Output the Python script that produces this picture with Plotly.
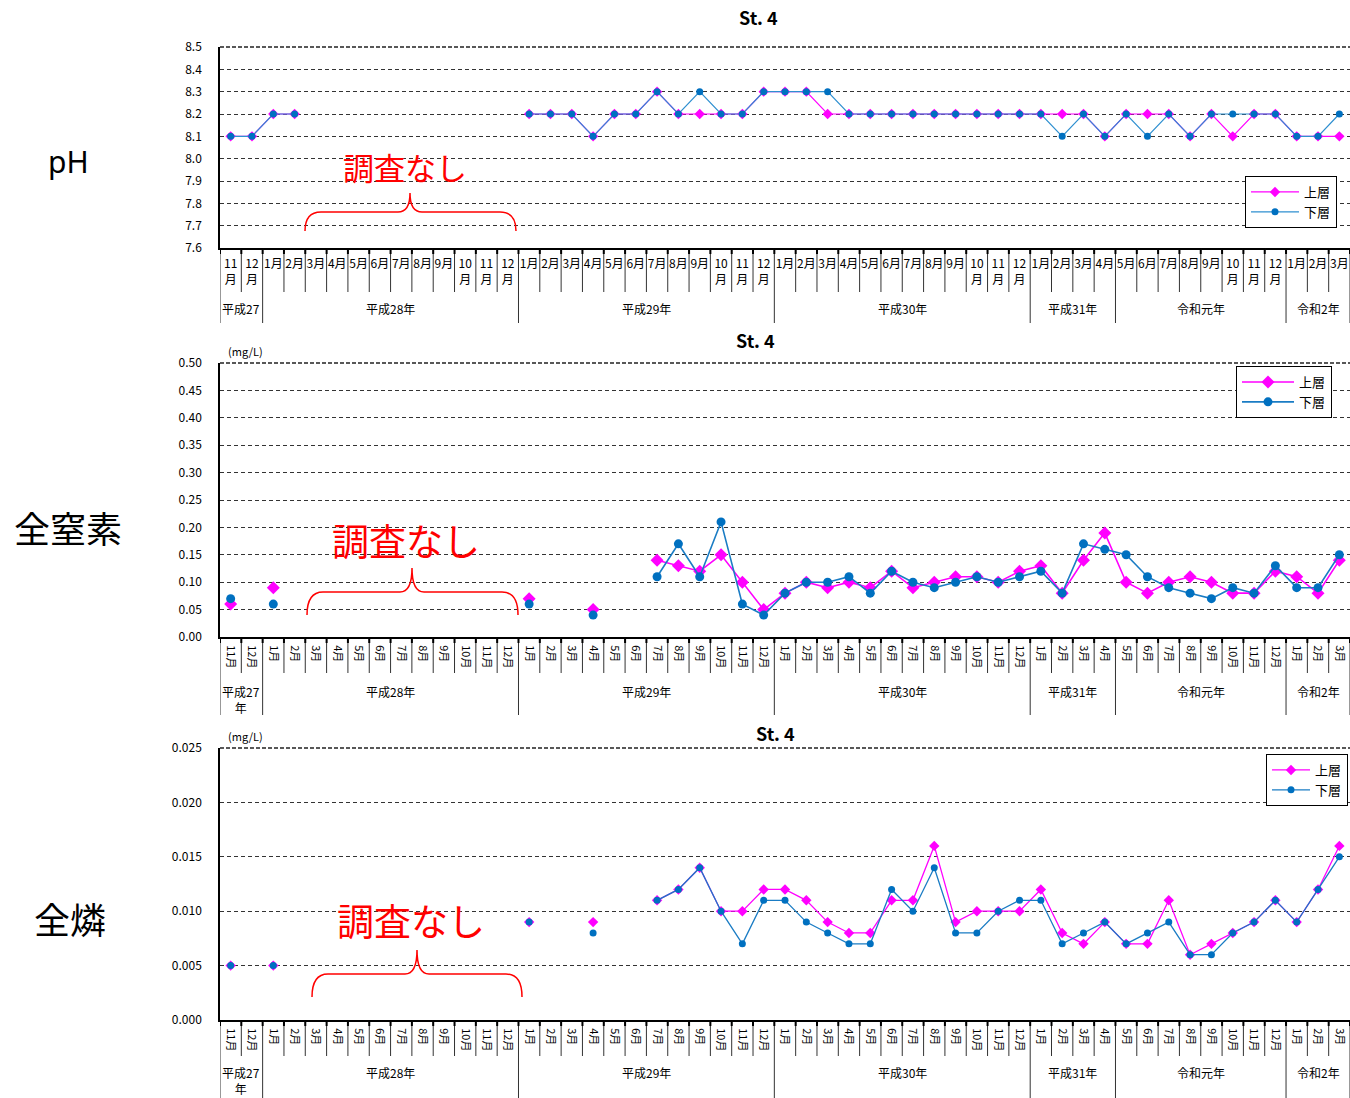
import plotly.graph_objects as go

W, H = 1350, 1098
FONT = "Noto Sans CJK JP"

# ---- data: monthly survey, Nov 2015 - Mar 2020 (St. 4) ----
month_labels = [
    "11月", "12月",
    "1月", "2月", "3月", "4月", "5月", "6月", "7月", "8月", "9月", "10月", "11月", "12月",
    "1月", "2月", "3月", "4月", "5月", "6月", "7月", "8月", "9月", "10月", "11月", "12月",
    "1月", "2月", "3月", "4月", "5月", "6月", "7月", "8月", "9月", "10月", "11月", "12月",
    "1月", "2月", "3月", "4月", "5月", "6月", "7月", "8月", "9月", "10月", "11月", "12月",
    "1月", "2月", "3月",
]
year_labels = ["平成27", "平成28年", "平成29年", "平成30年", "平成31年", "令和元年", "令和2年"]
year_first = [0, 2, 14, 26, 38, 42, 50]
year_last = [1, 13, 25, 37, 41, 49, 52]

ph_upper = [
    8.1, 8.1, 8.2, 8.2, None, None, None, None, None, None, None, None, None, None,
    8.2, 8.2, 8.2, 8.1, 8.2, 8.2, 8.3, 8.2, 8.2, 8.2, 8.2, 8.3,
    8.3, 8.3, 8.2, 8.2, 8.2, 8.2, 8.2, 8.2, 8.2, 8.2, 8.2, 8.2,
    8.2, 8.2, 8.2, 8.1, 8.2, 8.2, 8.2, 8.1, 8.2, 8.1, 8.2, 8.2,
    8.1, 8.1, 8.1,
]
ph_lower = [
    8.1, 8.1, 8.2, 8.2, None, None, None, None, None, None, None, None, None, None,
    8.2, 8.2, 8.2, 8.1, 8.2, 8.2, 8.3, 8.2, 8.3, 8.2, 8.2, 8.3,
    8.3, 8.3, 8.3, 8.2, 8.2, 8.2, 8.2, 8.2, 8.2, 8.2, 8.2, 8.2,
    8.2, 8.1, 8.2, 8.1, 8.2, 8.1, 8.2, 8.1, 8.2, 8.2, 8.2, 8.2,
    8.1, 8.1, 8.2,
]
tn_upper = [
    0.06, None, 0.09, None, None, None, None, None, None, None, None, None, None, None,
    0.07, None, None, 0.05, None, None, 0.14, 0.13, 0.12, 0.15, 0.10, 0.05,
    0.08, 0.10, 0.09, 0.10, 0.09, 0.12, 0.09, 0.10, 0.11, 0.11, 0.10, 0.12,
    0.13, 0.08, 0.14, 0.19, 0.10, 0.08, 0.10, 0.11, 0.10, 0.08, 0.08, 0.12,
    0.11, 0.08, 0.14,
]
tn_lower = [
    0.07, None, 0.06, None, None, None, None, None, None, None, None, None, None, None,
    0.06, None, None, 0.04, None, None, 0.11, 0.17, 0.11, 0.21, 0.06, 0.04,
    0.08, 0.10, 0.10, 0.11, 0.08, 0.12, 0.10, 0.09, 0.10, 0.11, 0.10, 0.11,
    0.12, 0.08, 0.17, 0.16, 0.15, 0.11, 0.09, 0.08, 0.07, 0.09, 0.08, 0.13,
    0.09, 0.09, 0.15,
]
tp_upper = [
    0.005, None, 0.005, None, None, None, None, None, None, None, None, None, None, None,
    0.009, None, None, 0.009, None, None, 0.011, 0.012, 0.014, 0.010, 0.010, 0.012,
    0.012, 0.011, 0.009, 0.008, 0.008, 0.011, 0.011, 0.016, 0.009, 0.010, 0.010, 0.010,
    0.012, 0.008, 0.007, 0.009, 0.007, 0.007, 0.011, 0.006, 0.007, 0.008, 0.009, 0.011,
    0.009, 0.012, 0.016,
]
tp_lower = [
    0.005, None, 0.005, None, None, None, None, None, None, None, None, None, None, None,
    0.009, None, None, 0.008, None, None, 0.011, 0.012, 0.014, 0.010, 0.007, 0.011,
    0.011, 0.009, 0.008, 0.007, 0.007, 0.012, 0.010, 0.014, 0.008, 0.008, 0.010, 0.011,
    0.011, 0.007, 0.008, 0.009, 0.007, 0.008, 0.009, 0.006, 0.006, 0.008, 0.009, 0.011,
    0.009, 0.012, 0.015,
]

ph_ticks = [7.6, 7.7, 7.8, 7.9, 8.0, 8.1, 8.2, 8.3, 8.4, 8.5]
tn_ticks = [0.0, 0.05, 0.10, 0.15, 0.20, 0.25, 0.30, 0.35, 0.40, 0.45, 0.50]
tp_ticks = [0.0, 0.005, 0.010, 0.015, 0.020, 0.025]

x_pos = list(range(len(month_labels)))

MAGENTA = "#FF00FF"
BLUE = "#0070C0"


def fx(px):
    return px / W


def fy(py):
    return 1 - py / H


# panel geometry in page pixels
panels = [
    dict(ax="", top=47, bottom=248, ticks=ph_ticks, fmt=".1f",
         up=ph_upper, lo=ph_lower, lw=1.2, msize=7, lo_line="#2E8FD0",
         month_bottom=292, year_bottom=323, year_y=308, angle=0, mfont=12,
         title_xy=(758, 17), unit=None, legend_xy=(1245, 176), legend_w=48,
         label="pH", label_xy=(68, 162), label_font=("Noto Sans", 30),
         note_xy=(405, 167), note_size=31,
         brace=(305, 516, 231, 212, 193, 410)),
    dict(ax="2", top=363, bottom=637, ticks=tn_ticks, fmt=".2f",
         up=tn_upper, lo=tn_lower, lw=1.6, msize=9, lo_line="#1A7CC4",
         month_bottom=673, year_bottom=715, year_y=691, angle=90, mfont=11,
         title_xy=(755, 340), unit=(245, 351), legend_xy=(1236, 366), legend_w=52,
         label="全窒素", label_xy=(68, 527), label_font=(FONT, 36),
         note_xy=(406, 540), note_size=37,
         brace=(307, 518, 615, 592, 568, 412)),
    dict(ax="3", top=748, bottom=1020, ticks=tp_ticks, fmt=".3f",
         up=tp_upper, lo=tp_lower, lw=1.3, msize=7, lo_line="#1A7CC4",
         month_bottom=1056, year_bottom=1098, year_y=1072, angle=90, mfont=11,
         title_xy=(775, 733), unit=(245, 736), legend_xy=(1266, 754), legend_w=38,
         label="全燐", label_xy=(70, 918), label_font=(FONT, 36),
         note_xy=(411, 920), note_size=37,
         brace=(312, 522, 997, 974, 950, 417)),
]

year_bounds = [year_first[0] - 0.5] + [f - 0.5 for f in year_first[1:]] + [year_last[-1] + 0.5]

fig = go.Figure()
layout = dict(
    width=W, height=H,
    margin=dict(l=0, r=0, t=0, b=0, autoexpand=False),
    paper_bgcolor="white", plot_bgcolor="white",
    font=dict(family=FONT, size=12, color="black"),
    showlegend=True,
    hovermode=False,
)
shapes = []
annotations = []


def note(x, y, text, size, family=FONT, color="black", xref="paper"):
    annotations.append(dict(
        x=x, y=y, xref=xref, yref="paper", text=text, showarrow=False,
        xanchor="center", yanchor="middle",
        font=dict(size=size, family=family, color=color),
    ))


for i, p in enumerate(panels):
    xa = "x" + p["ax"]
    ya = "y" + p["ax"]
    leg = "legend" + p["ax"]

    fig.add_trace(go.Scatter(
        x=x_pos, y=p["up"], mode="lines+markers", name="上層",
        line=dict(color=MAGENTA, width=p["lw"]),
        marker=dict(symbol="diamond", size=p["msize"] + 1, color=MAGENTA),
        xaxis=xa, yaxis=ya, legend=leg,
    ))
    fig.add_trace(go.Scatter(
        x=x_pos, y=p["lo"], mode="lines+markers", name="下層",
        line=dict(color=p["lo_line"], width=p["lw"]),
        marker=dict(symbol="circle", size=p["msize"], color=BLUE),
        xaxis=xa, yaxis=ya, legend=leg,
    ))

    if p["angle"] == 0:
        ticktext = [m if len(m) == 2 else m[:-1] + "<br>月" for m in month_labels]
    else:
        ticktext = month_labels

    layout["xaxis" + p["ax"]] = dict(
        domain=[fx(220), 1.0], range=[-0.5, 52.5], anchor=ya,
        tickmode="array", tickvals=x_pos, ticktext=ticktext,
        tickangle=p["angle"], tickfont=dict(size=p["mfont"], family=FONT),
        ticks="", ticklabelstandoff=4,
        showgrid=False, zeroline=False,
        showline=True, linecolor="black", linewidth=2,
    )
    layout["yaxis" + p["ax"]] = dict(
        domain=[fy(p["bottom"]), fy(p["top"])],
        range=[p["ticks"][0], p["ticks"][-1]], anchor=xa,
        tickmode="array", tickvals=p["ticks"],
        ticktext=[format(v, p["fmt"]) for v in p["ticks"]],
        tickfont=dict(size=12, family=FONT),
        ticks="", ticklabelstandoff=14,
        showgrid=True, gridcolor="#333333", griddash="4px,3px", gridwidth=1,
        zeroline=False, showline=True, linecolor="black", linewidth=1.5,
    )
    layout[leg] = dict(
        x=fx(p["legend_xy"][0]), y=fy(p["legend_xy"][1]),
        xanchor="left", yanchor="top",
        bgcolor="white", bordercolor="black", borderwidth=1,
        font=dict(size=13, family=FONT), itemwidth=p["legend_w"],
    )

    # top border of the plotting area
    shapes.append(dict(type="line", xref=xa + " domain", yref="paper",
                       x0=0, x1=1, y0=fy(p["top"]), y1=fy(p["top"]),
                       line=dict(color="#222222", width=1.5, dash="4px,2px")))

    # month / year separators under the axis
    for k in range(len(month_labels) + 1):
        b = k - 0.5
        yb = p["year_bottom"] if b in year_bounds else p["month_bottom"]
        shapes.append(dict(type="line", xref=xa, yref="paper",
                           x0=b, x1=b, y0=fy(p["bottom"]), y1=fy(yb),
                           line=dict(color="#333333", width=1)))
        shapes.append(dict(type="line", xref=xa, yref="paper",
                           x0=b, x1=b, y0=fy(p["bottom"]), y1=fy(p["bottom"] + 6),
                           line=dict(color="black", width=2)))

    # year captions
    for lab, a, b in zip(year_labels, year_first, year_last):
        if lab == "平成27" and i > 0:
            note((a + b) / 2, fy(p["year_y"] + 8), "平成27<br>年", 12, xref=xa)
        else:
            note((a + b) / 2, fy(p["year_y"]), lab, 12, xref=xa)

    # panel title and unit
    note(fx(p["title_xy"][0]), fy(p["title_xy"][1]), "<b>St. 4</b>", 18)
    if p["unit"]:
        note(fx(p["unit"][0]), fy(p["unit"][1]), "(mg/L)", 11)

    # parameter name on the left
    note(fx(p["label_xy"][0]), fy(p["label_xy"][1]), p["label"],
         p["label_font"][1], family=p["label_font"][0])

    # "no survey" note with a curly brace
    note(fx(p["note_xy"][0]), fy(p["note_xy"][1]), "調査なし", p["note_size"],
         color="#FF0000")
    xl, xr, ye, ybar, ypk, xm = p["brace"]
    r = 16
    r2 = 12
    path = (
        f"M {fx(xl)},{fy(ye)} Q {fx(xl)},{fy(ybar)} {fx(xl + r)},{fy(ybar)} "
        f"L {fx(xm - r2)},{fy(ybar)} Q {fx(xm)},{fy(ybar)} {fx(xm)},{fy(ypk)} "
        f"Q {fx(xm)},{fy(ybar)} {fx(xm + r2)},{fy(ybar)} "
        f"L {fx(xr - r)},{fy(ybar)} Q {fx(xr)},{fy(ybar)} {fx(xr)},{fy(ye)}"
    )
    shapes.append(dict(type="path", xref="paper", yref="paper", path=path,
                       line=dict(color="#FF0000", width=1.5)))

layout["shapes"] = shapes
layout["annotations"] = annotations
fig.update_layout(**layout)

fig.write_html("out.html", config={"displayModeBar": False})
